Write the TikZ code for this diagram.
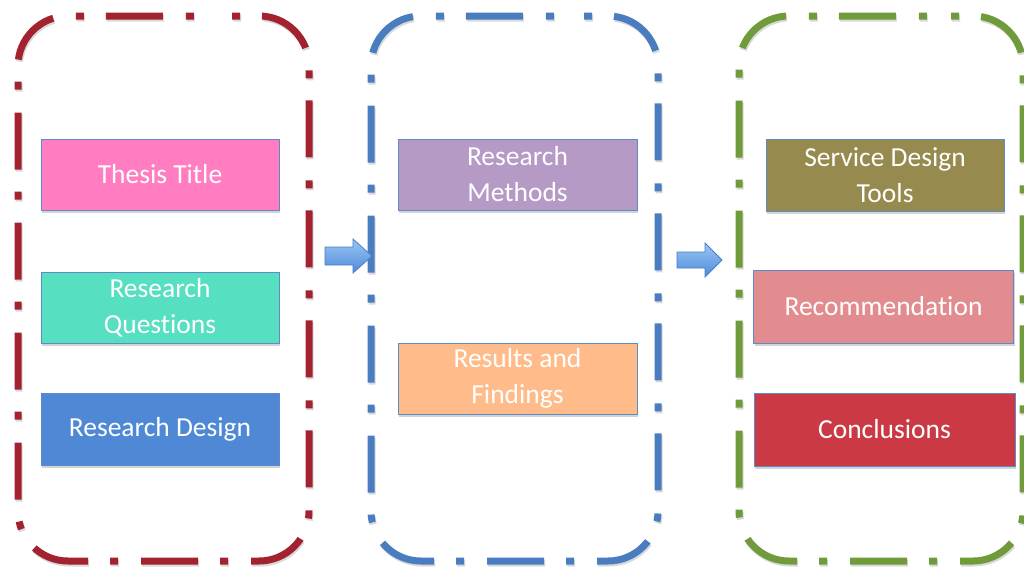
\documentclass[tikz,border=0pt]{standalone}
\usepackage{fontspec}
\setmainfont[Ligatures={NoCommon}]{Carlito}
\usetikzlibrary{shadows}
\definecolor{frRed}{HTML}{A2222F}
\definecolor{frBlue}{HTML}{4A7DC0}
\definecolor{frGreen}{HTML}{6F9B3A}
\definecolor{bxBorder}{HTML}{5B8BC8}
\definecolor{cPink}{HTML}{FF7DC0}
\definecolor{cTeal}{HTML}{57DFC2}
\definecolor{cBlue}{HTML}{4F89D6}
\definecolor{cLilac}{HTML}{B59AC6}
\definecolor{cPeach}{HTML}{FFBC8A}
\definecolor{cOlive}{HTML}{968A4F}
\definecolor{cRose}{HTML}{E38C8F}
\definecolor{cCrimson}{HTML}{CB3A44}
\definecolor{arTop}{HTML}{9CC6F3}
\definecolor{arBot}{HTML}{4E8ADB}
\definecolor{arEdge}{HTML}{4A7EC4}
\tikzset{
  frame/.style={line width=7pt, dash pattern=on 8pt off 22pt on 57pt off 23pt, dash phase=91pt, rounded corners=50pt},
  frameshadow/.style={frame, draw=black, opacity=0.15},
  box/.style={draw=bxBorder, line width=1pt, text=white, inner sep=0pt, align=center,
    font=\fontsize{27.5}{36}\selectfont,
    drop shadow={shadow xshift=1pt, shadow yshift=-3pt, opacity=0.35}},
  blockarrow/.style={draw=arEdge, line width=0.8pt, top color=arTop, bottom color=arBot, line join=miter}
}
\begin{document}
\begin{tikzpicture}[x=1pt,y=-1pt]
\useasboundingbox (0,0) rectangle (1024,570);
% frame shadows
\draw[frameshadow] (164,18) -- (310,18) -- (310,563) -- (19,563) -- (19,18) -- cycle;
\draw[frameshadow] (516,18) -- (659,18) -- (659,563) -- (372,563) -- (372,18) -- cycle;
\draw[frameshadow] (883,18) -- (1024,18) -- (1024,563) -- (740,563) -- (740,18) -- cycle;
% frames
\draw[frame, frRed] (163,16) -- (309,16) -- (309,561) -- (18,561) -- (18,16) -- cycle;
\draw[frame, frBlue] (515,16) -- (658,16) -- (658,561) -- (371,561) -- (371,16) -- cycle;
\draw[frame, frGreen] (882,16) -- (1023,16) -- (1023,561) -- (739,561) -- (739,16) -- cycle;
% boxes
\node[box, fill=cPink, minimum width=238pt, minimum height=71pt] (thesis) at (160,174.5) {Thesis Title};
\node[box, fill=cTeal, minimum width=238pt, minimum height=71pt] (rq) at (160,307.5) {Research\\Questions};
\node[box, fill=cBlue, minimum width=238pt, minimum height=72pt] (rd) at (160,429) {Research Design};
\node[box, fill=cLilac, minimum width=239pt, minimum height=71pt] (rm) at (517.5,174.5) {Research\\Methods};
\node[box, fill=cPeach, minimum width=239pt, minimum height=71pt] (rf) at (517.5,378.5) {Results and\\Findings};
\node[box, fill=cOlive, minimum width=238pt, minimum height=72pt] (sdt) at (885,175) {Service Design\\Tools};
\node[box, fill=cRose, minimum width=260pt, minimum height=73pt] (rec) at (883.5,306.5) {Recommendation};
\node[box, fill=cCrimson, minimum width=261pt, minimum height=73pt] (con) at (884.5,429.5) {Conclusions};
% block arrows
\draw[blockarrow] (325,247) -- (353,247) -- (353,239) -- (372,256) -- (353,273) -- (353,265) -- (325,265) -- cycle;
\draw[blockarrow] (677,252) -- (705,252) -- (705,243) -- (722,260) -- (705,277) -- (705,268) -- (677,268) -- cycle;
\end{tikzpicture}
\end{document}
